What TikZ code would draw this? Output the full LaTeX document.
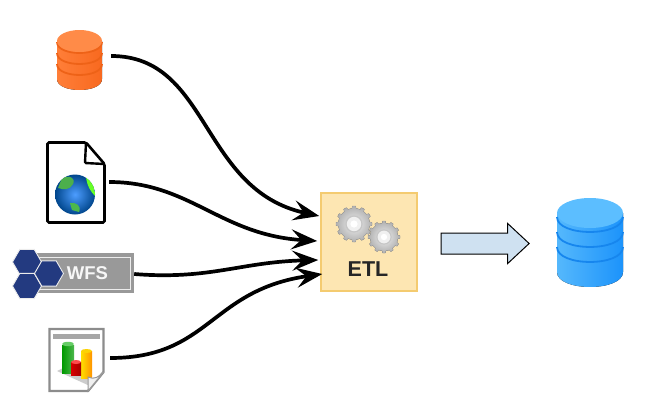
\documentclass[tikz,border=0pt]{standalone}
\usepackage{fontspec}
\setmainfont{Liberation Sans}
\usetikzlibrary{arrows.meta,shapes.arrows,shapes.geometric}

\definecolor{orangetop}{HTML}{FF8B48}
\definecolor{orangeleft}{HTML}{FF7E38}
\definecolor{orangeright}{HTML}{F8691F}
\definecolor{orangering}{HTML}{EE6217}
\definecolor{bluetop}{HTML}{5CBEFF}
\definecolor{blueleft}{HTML}{55B8FC}
\definecolor{blueright}{HTML}{1C93FB}
\definecolor{bluering}{HTML}{1686EE}
\definecolor{etlfill}{HTML}{FDE6B2}
\definecolor{etlline}{HTML}{F4CB70}
\definecolor{wfsblue}{HTML}{233A80}
\definecolor{flowfill}{HTML}{CFE1F1}

\tikzset{
    srcbox/.style={inner sep=0pt,minimum height=50pt},
    flowline/.style={line width=3.7pt,-{Stealth[length=26pt,width=20pt,inset=10pt]}},
    hexcell/.style={regular polygon,regular polygon sides=6,minimum size=29pt,inner sep=0pt,
        fill=wfsblue,draw=white!85!gray,line width=0.9pt}
}

\newcommand{\dbstack}[9]{
    \fill[left color=#7,right color=#8]
        (#1-#3,#2) -- (#1-#3,#5-#4)
        .. controls (#1-#3,#5+0.33*#4) and (#1+#3,#5+0.33*#4) .. (#1+#3,#5-#4)
        -- (#1+#3,#2) -- cycle;
    \foreach \ringy in {#9} {
        \draw[ringcolor,line width=1.8pt]
            (#1-#3,\ringy)
            .. controls (#1-#3,\ringy+1.33*#4) and (#1+#3,\ringy+1.33*#4) .. (#1+#3,\ringy);
    }
    \fill[#6] (#1,#2) ellipse[x radius=#3,y radius=#4];
}
\newcommand{\gearicon}[3]{
    \filldraw[draw=gray!70!white,line width=0.4pt,shift={(#1,#2)},inner color=gray!12!white,outer color=gray!62!white]
        plot[samples=145,domain=0:360] (\x:{#3*(0.87+0.13*(cos(12*\x)>0))}) -- cycle;
    \fill[gray!45!white,shift={(#1,#2)}] (0,0) circle[radius=0.48*#3];
    \fill[gray!12!white,shift={(#1,#2)}] (0,0) circle[radius=0.4*#3];
    \fill[white,shift={(#1,#2)}] (0,0) circle[radius=0.2*#3];
}

\begin{document}
\begin{tikzpicture}[x=1pt,y=-1pt]
\useasboundingbox (0,0) rectangle (652,407);

\colorlet{ringcolor}{orangering}
\dbstack{79.5}{41}{22.5}{11}{90}{orangetop}{orangeleft}{orangeright}{42,53,64}
\node[srcbox,minimum width=63pt] (dbsrc) at (79.5,56) {};

\draw[line width=2.6pt,rounded corners=1.5pt,fill=white]
    (47.5,142.5) -- (86,142.5) -- (104.5,164) -- (104.5,222.5) -- (47.5,222.5) -- cycle;
\draw[line width=2.4pt,rounded corners=1pt] (86,142.5) -- (85,163) -- (104.5,164);
\begin{scope}
    \clip (75,194.5) circle[radius=20];
    \shade[inner color=cyan!45!blue!70!white,outer color=blue!50!cyan!55!black] (75,194.5) circle[radius=20];
    \fill[green!55!black!70!white] (62,178) .. controls (70,175) and (76,178) .. (73,184)
        .. controls (70,190) and (64,190) .. (58,188) -- cycle;
    \fill[green!60!black!70!white] (70,203) .. controls (76,202) and (82,206) .. (79,212) -- (72,210) -- cycle;
    \fill[green!70!yellow!85!white] (86,177) .. controls (92,180) and (96,188) .. (95,196) .. controls (91,192) and (87,186) .. (86,177) -- cycle;
\end{scope}
\node[srcbox,minimum width=62pt] (docsrc) at (78,182) {};

\fill[gray!80!white] (30,253) rectangle (134,293);
\draw[white!85!gray,line width=1pt] (38,257) rectangle (130,289);
\node[hexcell] (hexa) at (27,262) {};
\node[hexcell] (hexc) at (27,286) {};
\node[hexcell] (hexb) at (49,273.5) {};
\node[text=white!94!gray,font=\bfseries\fontsize{18.5}{20}\selectfont,inner sep=0pt] (wfslabel) at (87.5,273.5) {WFS};
\node[srcbox,minimum width=120pt] (wfssrc) at (74,274) {};

\draw[gray!90!white,line width=2.4pt,fill=white] (49.5,329) -- (103.5,329) -- (103.5,372) -- (88,391) -- (49.5,391) -- cycle;
\fill[gray!70!white] (53,333.5) rectangle (100,338.5);
\fill[gray!40!white] (57,371) -- (63,368) -- (96,380) -- (90,386) -- cycle;
\fill[left color=green!60!black,right color=green!60!black!70!white] (62,345) rectangle (74,373);
\fill[green!50!white!80!black] (68,344) ellipse[x radius=6,y radius=2.2];
\fill[left color=yellow!75!orange,right color=orange!85!yellow] (81,351) rectangle (92,378);
\fill[yellow!70!orange] (86.5,351) ellipse[x radius=5.5,y radius=2];
\fill[left color=red!85!black,right color=red!65!black] (71,362) rectangle (81,375);
\fill[red!70!white] (76,362) ellipse[x radius=5,y radius=2];
\filldraw[draw=gray!80!white,line width=1pt,fill=gray!12!white] (88,391) -- (88,377) .. controls (94,380) and (99,377) .. (103.5,372) -- cycle;
\node[srcbox,minimum width=64pt] (chartsrc) at (78,358) {};

\node[draw=etlline,fill=etlfill,line width=1.5pt,minimum width=96pt,minimum height=98pt,inner sep=0pt] (etl) at (369,242) {};
\gearicon{354}{224}{18}
\gearicon{384}{237}{16}
\node[font=\bfseries\fontsize{21.5}{23}\selectfont,text=black!85!white,inner sep=0pt] (etllabel) at (368,269.5) {ETL};

\node[single arrow,draw=black,fill=flowfill,line width=1pt,inner xsep=0pt,inner ysep=10pt,minimum height=88pt,
    single arrow head extend=9.5pt,single arrow tip angle=86] (flow) at (479.5,243.5) {};

\colorlet{ringcolor}{bluering}
\dbstack{590}{213}{33}{15}{287}{bluetop}{blueleft}{blueright}{217,232,247}
\node[srcbox,minimum width=66pt,minimum height=89pt] (dbtarget) at (590,242.5) {};

\draw[flowline] (dbsrc.east) .. controls (210,56) and (200,190) .. ([shift={(-1,-26)}]etl.west);
\draw[flowline] (docsrc.east) .. controls (190,182) and (220,235) .. ([shift={(-3,-1)}]etl.west);
\draw[flowline] (wfssrc.east) .. controls (210,280) and (240,262) .. ([shift={(-2,18)}]etl.west);
\draw[flowline] (chartsrc.east) .. controls (210,358) and (210,290) .. ([shift={(2,32)}]etl.west);
\end{tikzpicture}
\end{document}
